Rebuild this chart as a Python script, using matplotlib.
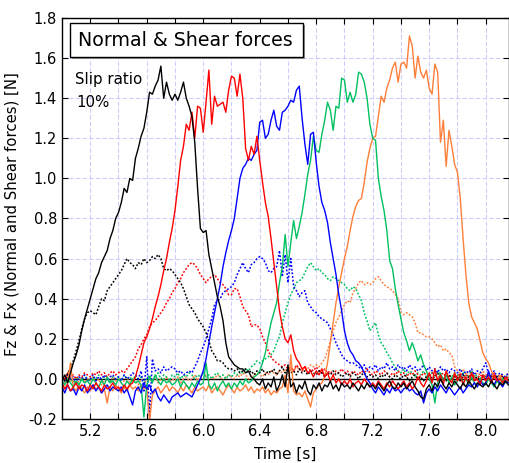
import numpy as np
import matplotlib
matplotlib.use("Agg")
import matplotlib.pyplot as plt
from matplotlib.patches import Rectangle

# time base of the sampled traces [s]
t_start, t_step, n_pts = 5.0, 0.02, 159

# normal force Fz (solid) and shear force Fx (dotted), one pair per run
fz_black = [
  -0.01, 0.02, -0.02, 0.03, 0.08, 0.12, 0.17, 0.24, 0.30, 0.35,
  0.40, 0.45, 0.50, 0.53, 0.58, 0.61, 0.64, 0.70, 0.74, 0.80,
  0.83, 0.88, 0.95, 0.93, 1.00, 0.99, 1.10, 1.15, 1.21, 1.25,
  1.33, 1.43, 1.42, 1.46, 1.49, 1.56, 1.40, 1.48, 1.42, 1.39,
  1.42, 1.39, 1.43, 1.48, 1.40, 1.36, 1.31, 1.18, 0.95, 0.75,
  0.73, 0.74, 0.62, 0.55, 0.48, 0.41, 0.36, 0.29, 0.18, 0.11,
  0.09, 0.07, 0.06, 0.05, 0.05, 0.03, 0.04, 0.01, 0.00, -0.02,
  -0.03, 0.00, -0.05, -0.02, -0.04, 0.01, -0.06, -0.03, 0.02, -0.04,
  0.07, -0.04, -0.02, -0.07, -0.03, -0.05, -0.01, -0.06, -0.08, -0.03,
  -0.05, -0.02, -0.06, -0.03, -0.04, -0.01, -0.05, -0.03, -0.06, -0.02,
  -0.04, -0.03, -0.05, -0.02, -0.04, -0.06, -0.03, -0.05, -0.02, -0.04,
  -0.03, -0.05, -0.02, -0.04, -0.06, -0.03, -0.01, -0.04, -0.05, -0.02,
  -0.04, -0.02, -0.05, -0.03, -0.01, -0.04, -0.06, -0.09, -0.10, -0.05,
  -0.03, -0.06, -0.02, -0.04, 0.00, -0.03, -0.05, -0.02, -0.04, -0.01,
  -0.03, -0.05, -0.02, -0.04, -0.01, -0.03, -0.05, -0.02, -0.03, -0.04,
  -0.02, -0.04, -0.01, -0.03, -0.05, -0.02, -0.03, -0.01, -0.03]
fx_black = [
  0.01, -0.01, 0.03, 0.05, 0.09, 0.14, 0.19, 0.25, 0.30, 0.33,
  0.34, 0.33, 0.32, 0.36, 0.40, 0.39, 0.44, 0.46, 0.48, 0.50,
  0.52, 0.54, 0.57, 0.60, 0.58, 0.57, 0.55, 0.58, 0.57, 0.60,
  0.58, 0.59, 0.61, 0.60, 0.62, 0.60, 0.55, 0.54, 0.55, 0.54,
  0.52, 0.50, 0.48, 0.45, 0.41, 0.37, 0.35, 0.33, 0.30, 0.28,
  0.26, 0.23, 0.19, 0.14, 0.12, 0.09, 0.09, 0.08, 0.06, 0.05,
  0.05, 0.04, 0.05, 0.03, 0.04, 0.05, 0.03, 0.04, 0.02, 0.04,
  0.03, 0.05, 0.02, 0.04, 0.03, 0.05, 0.02, 0.04, 0.06, 0.03,
  0.05, 0.03, 0.04, 0.02, 0.05, 0.03, 0.04, 0.02, 0.04, 0.03,
  0.02, 0.04, 0.03, 0.01, 0.03, 0.02, 0.04, 0.02, 0.03, 0.01,
  0.02, 0.03, 0.01, 0.03, 0.02, 0.00, 0.02, 0.03, 0.01, 0.02,
  0.01, 0.02, 0.00, 0.02, 0.01, 0.03, 0.01, 0.00, 0.02, 0.01,
  0.00, 0.02, 0.01, -0.01, 0.01, 0.02, 0.00, 0.01, -0.01, 0.01,
  0.02, 0.00, 0.01, 0.03, 0.00, 0.01, -0.01, 0.02, 0.00, 0.01,
  0.01, -0.01, 0.02, 0.00, 0.01, 0.02, 0.00, 0.01, -0.01, 0.01,
  0.00, 0.02, 0.01, 0.00, 0.01, -0.01, 0.01, 0.00, 0.01]

fz_red = [
  -0.02, -0.05, -0.03, -0.06, -0.04, -0.02, -0.05, -0.03, -0.04, -0.06,
  -0.03, -0.05, -0.02, -0.04, -0.06, -0.03, -0.05, -0.04, -0.02, -0.05,
  -0.04, -0.06, -0.03, -0.05, -0.03, -0.02, 0.01, 0.06, 0.12, 0.18,
  0.21, 0.25, 0.30, 0.36, 0.41, 0.47, 0.54, 0.60, 0.68, 0.75,
  0.84, 0.96, 1.09, 1.16, 1.27, 1.24, 1.33, 1.20, 1.36, 1.35,
  1.23, 1.38, 1.54, 1.27, 1.41, 1.36, 1.37, 1.38, 1.33, 1.44,
  1.51, 1.50, 1.41, 1.52, 1.40, 1.15, 1.09, 1.16, 1.12, 1.21,
  1.09, 0.98, 0.88, 0.81, 0.70, 0.58, 0.46, 0.34, 0.26, 0.20,
  0.18, 0.22, 0.14, 0.10, 0.08, 0.05, 0.06, 0.03, 0.04, 0.01,
  0.04, 0.02, 0.05, 0.01, 0.03, -0.01, 0.02, -0.02, 0.00, -0.03,
  -0.01, -0.03, 0.00, -0.04, -0.02, -0.01, -0.03, 0.00, -0.02, -0.04,
  -0.02, -0.04, -0.01, -0.03, -0.05, -0.02, -0.04, -0.01, -0.03, -0.05,
  -0.03, -0.01, -0.04, -0.02, -0.05, -0.03, 0.01, -0.02, -0.04, -0.01,
  0.03, -0.02, 0.05, -0.01, 0.02, -0.03, 0.04, 0.00, -0.02, 0.03,
  -0.01, 0.02, -0.03, 0.01, -0.02, 0.03, -0.01, 0.00, -0.03, 0.02,
  -0.01, 0.01, -0.02, 0.02, -0.01, 0.00, -0.02, 0.01, -0.01]
fx_red = [
  0.02, 0.00, 0.03, 0.01, 0.02, 0.00, 0.02, 0.01, 0.03, 0.02,
  0.01, 0.03, 0.02, 0.04, 0.02, 0.03, 0.01, 0.03, 0.04, 0.02,
  0.03, 0.04, 0.03, 0.05, 0.07, 0.09, 0.11, 0.15, 0.17, 0.20,
  0.22, 0.26, 0.28, 0.29, 0.31, 0.33, 0.35, 0.38, 0.40, 0.43,
  0.45, 0.48, 0.50, 0.53, 0.55, 0.57, 0.58, 0.57, 0.55, 0.52,
  0.50, 0.48, 0.50, 0.51, 0.52, 0.50, 0.48, 0.47, 0.45, 0.42,
  0.42, 0.45, 0.45, 0.41, 0.36, 0.34, 0.32, 0.26, 0.27, 0.27,
  0.25, 0.21, 0.18, 0.14, 0.11, 0.09, 0.08, 0.07, 0.06, 0.07,
  0.05, 0.06, 0.04, 0.07, 0.05, 0.04, 0.06, 0.03, 0.05, 0.04,
  0.06, 0.04, 0.03, 0.05, 0.03, 0.04, 0.02, 0.04, 0.03, 0.05,
  0.03, 0.04, 0.02, 0.04, 0.03, 0.02, 0.04, 0.03, 0.05, 0.03,
  0.02, 0.04, 0.03, 0.02, 0.04, 0.03, 0.01, 0.03, 0.02, 0.04,
  0.02, 0.03, 0.01, 0.03, 0.02, 0.04, 0.02, 0.01, 0.03, 0.02,
  0.01, 0.03, 0.02, 0.00, 0.02, 0.03, 0.01, 0.02, 0.00, 0.02,
  0.01, 0.03, 0.00, 0.02, 0.01, 0.03, 0.01, 0.00, 0.02, 0.01,
  0.02, 0.00, 0.01, 0.03, 0.00, 0.02, 0.01, 0.00, 0.01]

fz_blue = [
  -0.04, -0.07, -0.03, -0.06, -0.05, -0.08, -0.04, -0.06, -0.03, -0.07,
  -0.05, -0.03, -0.06, -0.04, -0.07, -0.05, -0.03, -0.06, -0.04, -0.05,
  -0.06, -0.04, -0.07, -0.05, -0.09, -0.13, -0.06, -0.04, -0.07, -0.02,
  -0.05, -0.03, -0.07, -0.05, -0.09, -0.11, -0.08, -0.10, -0.12, -0.09,
  -0.08, -0.07, -0.09, -0.08, -0.07, -0.08, -0.09, -0.06, -0.03, 0.00,
  0.04, 0.10, 0.18, 0.26, 0.33, 0.40, 0.47, 0.56, 0.63, 0.69,
  0.74, 0.80, 0.90, 1.00, 1.05, 1.07, 1.10, 1.09, 1.12, 1.14,
  1.28, 1.29, 1.20, 1.22, 1.29, 1.34, 1.26, 1.24, 1.33, 1.34,
  1.36, 1.39, 1.38, 1.44, 1.46, 1.30, 1.17, 1.07, 1.22, 1.23,
  1.08, 0.96, 0.88, 0.84, 0.78, 0.68, 0.60, 0.52, 0.42, 0.34,
  0.24, 0.18, 0.14, 0.12, 0.09, 0.08, 0.06, 0.03, 0.00, -0.02,
  -0.05, -0.07, -0.04, -0.06, -0.08, -0.05, -0.07, -0.04, -0.06, -0.05,
  -0.07, -0.05, -0.04, -0.06, -0.05, -0.07, -0.08, -0.06, -0.12, -0.07,
  -0.05, -0.07, -0.04, -0.06, -0.03, -0.05, -0.07, -0.04, -0.06, -0.08,
  -0.06, -0.04, -0.07, -0.05, -0.03, -0.04, -0.02, -0.04, -0.01, -0.03,
  -0.02, 0.04, -0.01, -0.03, 0.00, -0.02, -0.04, -0.01, -0.02]
fx_blue = [
  0.01, -0.01, 0.02, 0.00, 0.01, -0.02, 0.01, 0.00, 0.02, -0.01,
  0.00, 0.02, -0.01, 0.01, 0.00, 0.02, -0.01, 0.01, 0.02, 0.00,
  0.01, -0.01, 0.02, 0.00, 0.01, 0.03, 0.02, 0.00, 0.04, -0.06,
  0.11, -0.19, 0.10, 0.04, 0.05, 0.03, 0.06, 0.04, 0.05, 0.06,
  0.05, 0.03, 0.04, 0.02, 0.03, 0.04, 0.03, 0.06, 0.09, 0.13,
  0.16, 0.20, 0.25, 0.30, 0.37, 0.39, 0.40, 0.43, 0.44, 0.45,
  0.46, 0.48, 0.52, 0.55, 0.58, 0.55, 0.53, 0.57, 0.58, 0.60,
  0.61, 0.60, 0.58, 0.54, 0.53, 0.55, 0.56, 0.64, 0.51, 0.62,
  0.48, 0.60, 0.46, 0.44, 0.41, 0.43, 0.44, 0.38, 0.36, 0.34,
  0.33, 0.31, 0.30, 0.29, 0.28, 0.25, 0.22, 0.18, 0.15, 0.12,
  0.10, 0.09, 0.08, 0.08, 0.07, 0.06, 0.05, 0.07, 0.04, 0.06,
  0.05, 0.07, 0.04, 0.06, 0.05, 0.08, 0.05, 0.06, 0.04, 0.07,
  0.05, 0.06, 0.04, 0.07, 0.05, 0.06, 0.04, 0.05, 0.07, 0.04,
  0.06, 0.04, 0.05, 0.03, 0.06, 0.04, 0.05, 0.03, 0.05, 0.04,
  0.03, 0.05, 0.02, 0.04, 0.03, 0.05, 0.02, 0.04, 0.03, 0.05,
  0.08, 0.03, 0.02, 0.04, 0.01, 0.03, 0.02, 0.01, 0.03]

fz_green = [
  -0.01, -0.03, 0.00, -0.02, -0.04, -0.01, -0.03, 0.00, -0.02, -0.01,
  -0.03, 0.00, -0.02, -0.04, -0.01, -0.03, 0.01, -0.02, -0.01, -0.03,
  0.00, -0.02, -0.04, -0.01, -0.03, 0.00, -0.02, -0.01, -0.03, -0.19,
  -0.03, 0.01, -0.02, 0.02, -0.01, -0.03, 0.00, -0.02, -0.01, -0.03,
  -0.02, 0.00, -0.04, -0.01, -0.03, -0.05, -0.02, -0.04, -0.01, -0.03,
  -0.02, 0.08, -0.03, -0.05, -0.02, -0.06, -0.03, -0.01, -0.04, -0.02,
  -0.05, -0.02, -0.04, -0.01, -0.03, 0.00, -0.02, -0.01, 0.01, 0.02,
  0.04, 0.08, 0.13, 0.21, 0.28, 0.33, 0.38, 0.48, 0.56, 0.72,
  0.56, 0.68, 0.79, 0.70, 0.76, 0.83, 0.92, 1.02, 1.09, 1.21,
  1.14, 1.13, 1.22, 1.29, 1.38, 1.34, 1.24, 1.36, 1.35, 1.50,
  1.49, 1.38, 1.43, 1.38, 1.42, 1.53, 1.52, 1.48, 1.40, 1.27,
  1.20, 1.19, 1.00, 0.91, 0.84, 0.74, 0.59, 0.55, 0.45, 0.37,
  0.30, 0.23, 0.19, 0.14, 0.18, 0.14, 0.09, 0.12, 0.07, 0.04,
  0.00, -0.03, -0.12, -0.02, 0.03, -0.01, 0.02, -0.02, 0.01, -0.03,
  -0.01, 0.02, -0.02, 0.00, -0.03, 0.01, -0.02, -0.04, 0.00, -0.02,
  -0.03, 0.00, -0.02, -0.04, -0.01, -0.03, 0.00, -0.02, -0.01]
fx_green = [
  0.01, -0.01, 0.02, 0.00, -0.02, 0.01, 0.00, -0.01, 0.02, 0.00,
  -0.01, 0.01, 0.00, 0.02, -0.01, 0.01, 0.00, -0.02, 0.01, 0.00,
  0.01, -0.01, 0.02, 0.00, 0.01, -0.01, 0.02, 0.00, 0.01, -0.02,
  0.00, 0.02, -0.01, 0.01, 0.03, 0.00, 0.02, 0.01, -0.01, 0.02,
  0.01, 0.03, 0.00, 0.02, 0.01, 0.03, 0.02, 0.00, 0.02, 0.01,
  0.03, 0.01, 0.02, 0.00, 0.02, 0.03, 0.01, 0.02, 0.00, 0.02,
  0.01, 0.03, 0.02, 0.04, 0.03, 0.05, 0.04, 0.06, 0.07, 0.09,
  0.08, 0.09, 0.10, 0.11, 0.12, 0.14, 0.18, 0.21, 0.28, 0.33,
  0.38, 0.42, 0.45, 0.48, 0.49, 0.50, 0.53, 0.56, 0.58, 0.56,
  0.54, 0.55, 0.53, 0.52, 0.50, 0.49, 0.51, 0.50, 0.49, 0.48,
  0.47, 0.45, 0.44, 0.46, 0.45, 0.42, 0.39, 0.33, 0.29, 0.24,
  0.26, 0.28, 0.22, 0.18, 0.16, 0.13, 0.11, 0.08, 0.06, 0.04,
  0.03, 0.05, 0.02, 0.04, 0.03, 0.01, 0.03, 0.02, 0.04, 0.01,
  0.02, 0.03, 0.01, 0.04, 0.02, 0.00, 0.03, 0.02, 0.01, 0.03,
  0.02, 0.00, 0.03, 0.01, 0.02, 0.04, 0.01, 0.02, 0.00, 0.02,
  0.01, 0.03, 0.00, 0.02, 0.01, 0.02, 0.00, 0.01, 0.02]

fz_orange = [
  -0.03, -0.05, -0.02, 0.08, -0.04, -0.06, -0.03, -0.05, -0.07, -0.04,
  -0.06, -0.03, -0.05, -0.04, -0.07, -0.05, -0.12, -0.04, -0.06, -0.03,
  -0.05, -0.07, -0.04, -0.06, -0.03, -0.05, -0.04, -0.06, -0.03, -0.05,
  -0.04, -0.21, -0.08, -0.06, -0.04, -0.07, -0.05, -0.03, -0.06, -0.04,
  -0.05, -0.07, -0.04, -0.06, -0.03, -0.05, -0.07, -0.04, -0.06, -0.05,
  -0.04, -0.06, -0.03, -0.07, -0.05, -0.04, -0.06, -0.08, -0.05, -0.03,
  -0.05, -0.07, -0.04, -0.06, -0.05, -0.03, -0.06, -0.04, -0.07, -0.05,
  -0.06, -0.04, -0.07, -0.05, -0.08, -0.06, -0.07, -0.05, -0.04, 0.02,
  -0.07, 0.12, -0.06, -0.08, -0.07, -0.09, -0.06, -0.10, -0.14, -0.07,
  -0.05, -0.03, -0.02, 0.01, 0.08, 0.18, 0.28, 0.38, 0.46, 0.53,
  0.60, 0.66, 0.74, 0.81, 0.86, 0.89, 0.90, 0.98, 1.08, 1.15,
  1.20, 1.21, 1.31, 1.41, 1.38, 1.45, 1.49, 1.55, 1.58, 1.48,
  1.57, 1.58, 1.55, 1.71, 1.66, 1.50, 1.61, 1.53, 1.50, 1.54,
  1.45, 1.42, 1.57, 1.53, 1.18, 1.29, 1.06, 1.24, 1.16, 1.07,
  1.03, 0.90, 0.70, 0.52, 0.38, 0.31, 0.28, 0.25, 0.19, 0.13,
  0.10, 0.08, 0.04, 0.01, -0.01, 0.02, -0.02, 0.00, -0.01]
fx_orange = [
  0.00, -0.02, 0.01, -0.01, 0.00, -0.03, -0.01, 0.01, -0.02, 0.00,
  -0.01, 0.01, -0.02, 0.00, -0.03, -0.01, 0.00, -0.02, 0.01, -0.01,
  0.00, -0.02, -0.01, 0.01, -0.02, 0.00, -0.01, -0.03, 0.00, -0.01,
  -0.02, 0.00, -0.01, 0.01, -0.02, 0.00, -0.01, 0.01, -0.02, 0.00,
  -0.01, 0.01, -0.02, 0.00, 0.01, -0.01, 0.00, 0.02, -0.01, 0.01,
  0.00, 0.02, -0.01, 0.01, 0.00, 0.02, 0.01, -0.01, 0.01, 0.02,
  0.01, 0.00, 0.02, 0.01, 0.03, 0.02, 0.00, 0.02, 0.01, 0.03,
  0.02, 0.01, 0.03, 0.02, 0.04, 0.03, 0.02, 0.04, 0.03, 0.05,
  0.03, 0.05, 0.04, 0.06, 0.05, 0.04, 0.06, 0.05, 0.07, 0.06,
  0.07, 0.06, 0.08, 0.10, 0.14, 0.19, 0.24, 0.28, 0.31, 0.34,
  0.37, 0.39, 0.38, 0.43, 0.45, 0.48, 0.49, 0.47, 0.48, 0.47,
  0.48, 0.50, 0.51, 0.49, 0.47, 0.46, 0.45, 0.44, 0.42, 0.40,
  0.33, 0.32, 0.33, 0.32, 0.31, 0.28, 0.23, 0.23, 0.22, 0.21,
  0.21, 0.20, 0.18, 0.16, 0.17, 0.14, 0.15, 0.13, 0.12, 0.06,
  0.04, 0.03, 0.05, 0.02, 0.04, 0.03, 0.01, 0.03, 0.02, 0.04,
  0.02, 0.03, 0.01, 0.03, 0.02, 0.00, 0.02, 0.01, 0.03]

x_ticks = [5.2, 5.4, 5.6, 5.8, 6.0, 6.2, 6.4, 6.6, 6.8, 7.0, 7.2, 7.4, 7.6, 7.8, 8.0]
x_tick_labels = ['5.2', '', '5.6', '', '6.0', '', '6.4', '', '6.8', '', '7.2', '', '7.6', '', '8.0']
y_ticks = [-0.2, 0.0, 0.2, 0.4, 0.6, 0.8, 1.0, 1.2, 1.4, 1.6, 1.8]
y_tick_labels = ['-0.2', '0.0', '0.2', '0.4', '0.6', '0.8', '1.0', '1.2', '1.4', '1.6', '1.8']

t = t_start + t_step*np.arange(n_pts)

runs = [
  (fz_orange, fx_orange, '#ff7f3a'),
  (fz_green,  fx_green,  '#00c060'),
  (fz_blue,   fx_blue,   '#0000ff'),
  (fz_red,    fx_red,    '#ff0000'),
  (fz_black,  fx_black,  '#000000'),
]

plt.rcParams['font.family'] = ['DejaVu Sans']
fig = plt.figure(figsize=(5.1, 4.63), dpi=100)
ax = fig.add_axes([62/510, 44/463, 447/510, 401/463])

ax.grid(True, color='#cdcdfa', linestyle=(0, (4, 2)), linewidth=0.8)
ax.set_axisbelow(True)
ax.axhline(0.0, color='black', linewidth=1.0, zorder=1.5)

for fz, fx, col in runs:
  ax.plot(t, fx, color=col, linewidth=1.1, linestyle=(0, (1.2, 1.2)))
for fz, fx, col in runs:
  ax.plot(t, fz, color=col, linewidth=1.0)

ax.set_xlim(5.0, 8.165)
ax.set_ylim(-0.2, 1.8)
ax.set_xticks(x_ticks)
ax.set_xticklabels(x_tick_labels)
ax.set_yticks(y_ticks)
ax.set_yticklabels(y_tick_labels)
ax.tick_params(direction='in', top=True, right=True, length=4, labelsize=10.5)
for s in ax.spines.values():
  s.set_linewidth(1.0)

ax.set_xlabel('Time [s]', fontsize=11, labelpad=6)
ax.set_ylabel('Fz & Fx (Normal and Shear forces) [N]', fontsize=10.7, labelpad=7)
ax.yaxis.set_label_coords(-0.095, 0.51)

# title box with a grey shadow
ax.add_patch(Rectangle((0.022, 0.898), 0.521, 0.085, transform=ax.transAxes,
                       facecolor='#9a9a9a', edgecolor='none', zorder=5))
ax.add_patch(Rectangle((0.018, 0.903), 0.521, 0.085, transform=ax.transAxes,
                       facecolor='white', edgecolor='black', linewidth=1.0, zorder=6))
ax.text(0.036, 0.945, 'Normal & Shear forces', transform=ax.transAxes,
        ha='left', va='center', fontsize=13.7, zorder=7)
ax.text(0.030, 0.847, 'Slip ratio', transform=ax.transAxes,
        ha='left', va='center', fontsize=10.8, zorder=7)
ax.text(0.032, 0.790, '10%', transform=ax.transAxes,
        ha='left', va='center', fontsize=10.8, zorder=7)

fig.savefig('out.png', dpi=100)
